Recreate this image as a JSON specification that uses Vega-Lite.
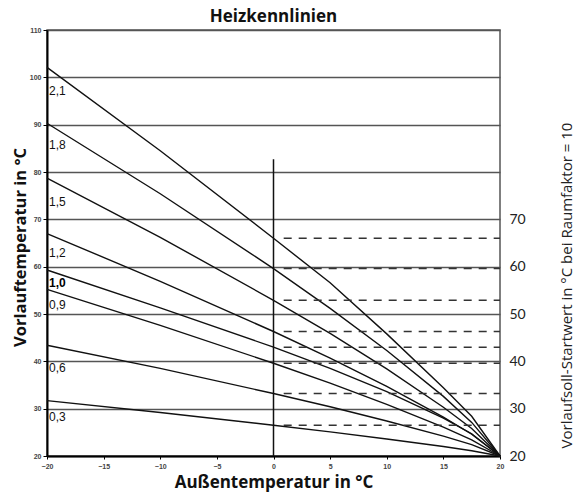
{
  "$schema": "https://vega.github.io/schema/vega-lite/v6.json",
  "width": 453,
  "height": 426,
  "autosize": {"type": "none"},
  "padding": {"left": 47, "top": 30, "right": 74, "bottom": 36},
  "background": "white",
  "config": {
    "view": {"stroke": "#555", "strokeWidth": 1.5},
    "font": "Liberation Sans"
  },
  "title": {
    "text": "Heizkennlinien",
    "font": "Open Sans",
    "fontSize": 17,
    "fontWeight": "bold",
    "color": "#111",
    "anchor": "middle",
    "frame": "group",
    "baseline": "alphabetic",
    "offset": -13
  },
  "datasets": {
    "curves": [
      {"k": "2,1", "x": -20, "y": 102.1}, {"k": "2,1", "x": -10, "y": 84.5}, {"k": "2,1", "x": 0, "y": 66.0}, {"k": "2,1", "x": 5, "y": 56.6}, {"k": "2,1", "x": 10, "y": 45.8}, {"k": "2,1", "x": 15, "y": 34.4}, {"k": "2,1", "x": 17.5, "y": 28.4}, {"k": "2,1", "x": 20, "y": 20},
      {"k": "1,8", "x": -20, "y": 90.3}, {"k": "1,8", "x": -10, "y": 75.4}, {"k": "1,8", "x": 0, "y": 59.6}, {"k": "1,8", "x": 5, "y": 51.2}, {"k": "1,8", "x": 10, "y": 42.3}, {"k": "1,8", "x": 15, "y": 32.6}, {"k": "1,8", "x": 17.5, "y": 27.1}, {"k": "1,8", "x": 20, "y": 20},
      {"k": "1,5", "x": -20, "y": 78.7}, {"k": "1,5", "x": -10, "y": 66.2}, {"k": "1,5", "x": 0, "y": 52.9}, {"k": "1,5", "x": 5, "y": 45.9}, {"k": "1,5", "x": 10, "y": 38.4}, {"k": "1,5", "x": 15, "y": 30.3}, {"k": "1,5", "x": 17.5, "y": 25.8}, {"k": "1,5", "x": 20, "y": 20},
      {"k": "1,2", "x": -20, "y": 67.0}, {"k": "1,2", "x": -10, "y": 56.9}, {"k": "1,2", "x": 0, "y": 46.3}, {"k": "1,2", "x": 5, "y": 40.7}, {"k": "1,2", "x": 10, "y": 34.7}, {"k": "1,2", "x": 15, "y": 28.2}, {"k": "1,2", "x": 17.5, "y": 24.6}, {"k": "1,2", "x": 20, "y": 20},
      {"k": "1,0", "x": -20, "y": 59.3}, {"k": "1,0", "x": -10, "y": 51.3}, {"k": "1,0", "x": 0, "y": 43.0}, {"k": "1,0", "x": 5, "y": 38.5}, {"k": "1,0", "x": 10, "y": 33.6}, {"k": "1,0", "x": 15, "y": 28.0}, {"k": "1,0", "x": 17.5, "y": 24.7}, {"k": "1,0", "x": 20, "y": 20},
      {"k": "0,9", "x": -20, "y": 55.2}, {"k": "0,9", "x": -10, "y": 47.6}, {"k": "0,9", "x": 0, "y": 39.6}, {"k": "0,9", "x": 5, "y": 35.4}, {"k": "0,9", "x": 10, "y": 30.9}, {"k": "0,9", "x": 15, "y": 26.1}, {"k": "0,9", "x": 17.5, "y": 23.4}, {"k": "0,9", "x": 20, "y": 20},
      {"k": "0,6", "x": -20, "y": 43.4}, {"k": "0,6", "x": -10, "y": 38.5}, {"k": "0,6", "x": 0, "y": 33.2}, {"k": "0,6", "x": 5, "y": 30.4}, {"k": "0,6", "x": 10, "y": 27.4}, {"k": "0,6", "x": 15, "y": 24.2}, {"k": "0,6", "x": 17.5, "y": 22.4}, {"k": "0,6", "x": 20, "y": 20},
      {"k": "0,3", "x": -20, "y": 31.7}, {"k": "0,3", "x": -10, "y": 29.2}, {"k": "0,3", "x": 0, "y": 26.5}, {"k": "0,3", "x": 5, "y": 25.1}, {"k": "0,3", "x": 10, "y": 23.6}, {"k": "0,3", "x": 15, "y": 22.0}, {"k": "0,3", "x": 17.5, "y": 21.1}, {"k": "0,3", "x": 20, "y": 20}
    ],
    "labels": [
      {"label": "2,1", "y": 97.1}, {"label": "1,8", "y": 85.6}, {"label": "1,5", "y": 73.7}, {"label": "1,2", "y": 62.9},
      {"label": "1,0", "y": 56.6}, {"label": "0,9", "y": 52.0}, {"label": "0,6", "y": 38.65}, {"label": "0,3", "y": 28.3}
    ],
    "start": [
      {"y": 66.0}, {"y": 59.6}, {"y": 52.9}, {"y": 46.3}, {"y": 43.0}, {"y": 39.6}, {"y": 33.2}, {"y": 26.5}
    ]
  },
  "resolve": {"axis": {"y": "independent"}},
  "layer": [
    {
      "data": {"name": "curves"},
      "mark": {"type": "line", "color": "#111", "strokeWidth": 1.4},
      "encoding": {
        "x": {
          "field": "x", "type": "quantitative",
          "scale": {"domain": [-20, 20], "nice": false, "zero": false},
          "axis": {
            "values": [-20, -15, -10, -5, 0, 5, 10, 15, 20],
            "grid": false,
            "domainColor": "#000", "domainWidth": 2,
            "tickColor": "#000", "tickSize": 3, "tickWidth": 1,
            "labelFont": "Liberation Sans", "labelFontSize": 7, "labelFontWeight": "bold", "labelColor": "#444",
            "labelPadding": 3, "labelFlush": false,
            "title": "Außentemperatur in °C",
            "titleFont": "Open Sans", "titleFontSize": 17, "titleFontWeight": "bold", "titleColor": "#111",
            "titleBaseline": "alphabetic", "titleY": 31.5
          }
        },
        "y": {
          "field": "y", "type": "quantitative",
          "scale": {"domain": [20, 110], "nice": false, "zero": false},
          "axis": {
            "orient": "left",
            "values": [20, 30, 40, 50, 60, 70, 80, 90, 100, 110],
            "grid": true, "gridColor": "#555", "gridWidth": 1.3,
            "domainColor": "#000", "domainWidth": 2,
            "tickColor": "#000", "tickSize": 4, "tickWidth": 1,
            "labelFont": "Liberation Sans", "labelFontSize": 7, "labelFontWeight": "bold", "labelColor": "#444",
            "labelPadding": 2,
            "title": "Vorlauftemperatur in °C",
            "titleFont": "Open Sans", "titleFontSize": 16.5, "titleFontWeight": "bold", "titleColor": "#111",
            "titleAngle": 270, "titleAlign": "center", "titleBaseline": "middle",
            "titleX": -27, "titleY": 217
          }
        },
        "detail": {"field": "k"}
      }
    },
    {
      "data": {"name": "start"},
      "mark": {"type": "rule", "color": "#333", "strokeWidth": 1.5, "strokeDash": [8, 7]},
      "encoding": {
        "x": {"datum": 0.9},
        "x2": {"datum": 20},
        "y": {
          "field": "y", "type": "quantitative",
          "axis": {
            "orient": "right",
            "values": [20, 30, 40, 50, 60, 70],
            "grid": false, "domain": false, "ticks": false,
            "labelFont": "Lato", "labelFontSize": 14, "labelColor": "#222", "labelPadding": 9,
            "title": "Vorlaufsoll-Startwert in °C bei Raumfaktor = 10",
            "titleFont": "Open Sans", "titleFontSize": 15, "titleFontWeight": "normal", "titleColor": "#222",
            "titleAngle": 270, "titleAlign": "center", "titleBaseline": "middle",
            "titleX": 66, "titleY": 255
          }
        }
      }
    },
    {
      "data": {"values": [{"t": 0}]},
      "mark": {"type": "rule", "color": "#111", "strokeWidth": 1.5},
      "encoding": {
        "x": {"datum": 0},
        "y": {"datum": 20, "axis": null},
        "y2": {"datum": 82.7}
      }
    },
    {
      "data": {"name": "labels"},
      "transform": [{"filter": "datum.label != '1,0'"}],
      "mark": {"type": "text", "align": "left", "baseline": "middle", "dx": 2, "fontSize": 12, "font": "Liberation Sans", "color": "#111"},
      "encoding": {
        "x": {"datum": -20},
        "y": {"field": "y", "type": "quantitative", "axis": null},
        "text": {"field": "label"}
      }
    },
    {
      "data": {"name": "labels"},
      "transform": [{"filter": "datum.label == '1,0'"}],
      "mark": {"type": "text", "align": "left", "baseline": "middle", "dx": 2, "fontSize": 12, "fontWeight": "bold", "font": "Liberation Sans", "color": "#000"},
      "encoding": {
        "x": {"datum": -20},
        "y": {"field": "y", "type": "quantitative", "axis": null},
        "text": {"field": "label"}
      }
    }
  ]
}
